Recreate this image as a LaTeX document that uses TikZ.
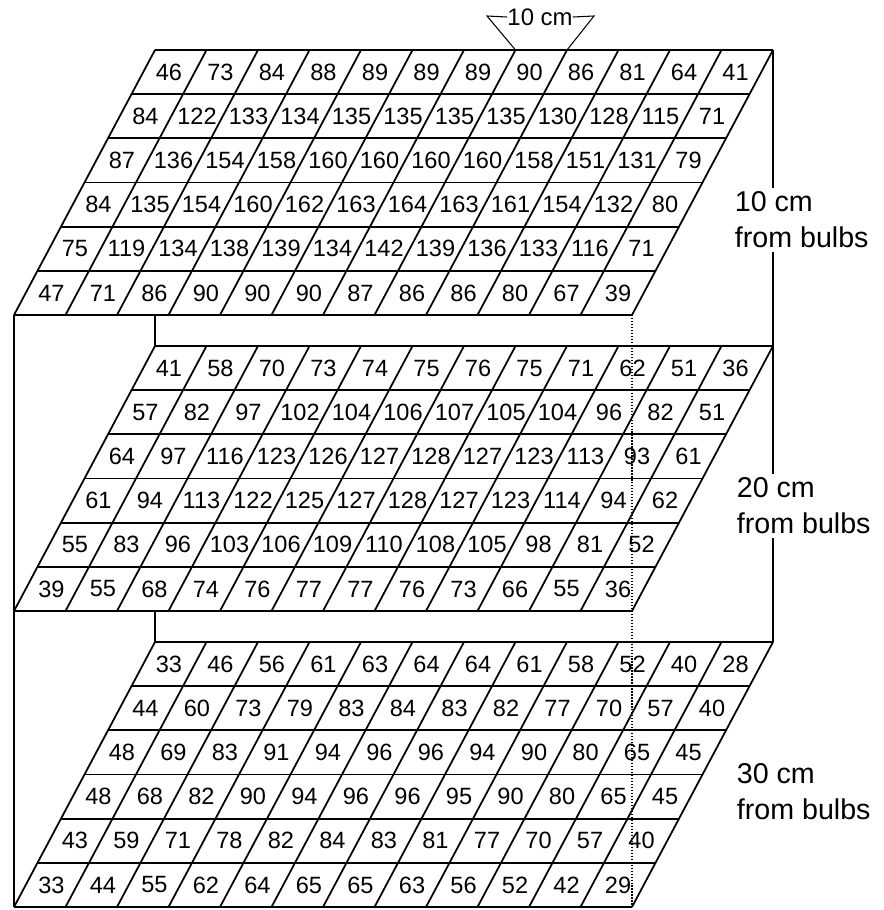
\documentclass[tikz,border=0pt]{standalone}
\usepackage{fontspec}
\setmainfont{Liberation Sans}
\begin{document}
\begin{tikzpicture}[
  x=0.02cm, y=-0.02cm,
  every node/.style={font=\fontsize{13.4}{15}\selectfont, inner sep=0pt},
  rule/.style={line width=1pt},
  wall/.style={line width=1.3pt},
  hidden/.style={line width=0.7pt, densely dotted},
  tag/.style={font=\fontsize{16.3}{20.5}\selectfont, align=left, anchor=west, inner sep=2pt}]
\useasboundingbox (0,0) rectangle (884,910);

% three trays, 12 x 6 cells each
\foreach \lay/\T in {a/50, b/346, c/642} {
  \foreach \r in {0,...,6}
    \draw[rule] (155-141*\r/6, \T+265*\r/6) -- (773-141*\r/6, \T+265*\r/6);
  \foreach \k in {0,...,12}
    \draw[rule] (155+51.5*\k, \T) -- (14+51.5*\k, \T+265);
  \coordinate (\lay-tl) at (155, \T);
  \coordinate (\lay-tr) at (773, \T);
  \coordinate (\lay-bl) at (14, \T+265);
  \coordinate (\lay-br) at (632, \T+265);
}

% 10 cm from bulbs
\foreach \vals [count=\r] in {
  {46,73,84,88,89,89,89,90,86,81,64,41},
  {84,122,133,134,135,135,135,135,130,128,115,71},
  {87,136,154,158,160,160,160,160,158,151,131,79},
  {84,135,154,160,162,163,164,163,161,154,132,80},
  {75,119,134,138,139,134,142,139,136,133,116,71},
  {47,71,86,90,90,90,87,86,86,80,67,39}}
  \foreach \v [count=\c] in \vals
    \node (a\r-\c) at (155+51.5*\c-25.75-141*\r/6+11.75, 50+44.17*\r-22.08) {\v};

% 20 cm from bulbs
\foreach \vals [count=\r] in {
  {41,58,70,73,74,75,76,75,71,62,51,36},
  {57,82,97,102,104,106,107,105,104,96,82,51},
  {64,97,116,123,126,127,128,127,123,113,93,61},
  {61,94,113,122,125,127,128,127,123,114,94,62},
  {55,83,96,103,106,109,110,108,105,98,81,52},
  {39,55,68,74,76,77,77,76,73,66,55,36}}
  \foreach \v [count=\c] in \vals
    \node (b\r-\c) at (155+51.5*\c-25.75-141*\r/6+11.75, 346+44.17*\r-22.08) {\v};

% 30 cm from bulbs
\foreach \vals [count=\r] in {
  {33,46,56,61,63,64,64,61,58,52,40,28},
  {44,60,73,79,83,84,83,82,77,70,57,40},
  {48,69,83,91,94,96,96,94,90,80,65,45},
  {48,68,82,90,94,96,96,95,90,80,65,45},
  {43,59,71,78,82,84,83,81,77,70,57,40},
  {33,44,55,62,64,65,65,63,56,52,42,29}}
  \foreach \v [count=\c] in \vals
    \node (c\r-\c) at (155+51.5*\c-25.75-141*\r/6+11.75, 642+44.17*\r-22.08) {\v};

% box
\node[tag] (ta) at (731,220) {10 cm\\from bulbs};
\node[tag] (tb) at (733,506) {20 cm\\from bulbs};
\node[tag] (tc) at (733,792) {30 cm\\from bulbs};
\draw[wall] (a-bl) -- (c-bl);
\draw[wall] (155,315) -- (b-tl);
\draw[wall] (155,611) -- (c-tl);
\draw[wall] (a-tr) -- (a-tr |- ta.north);
\draw[wall] (a-tr |- ta.south) -- (a-tr |- tb.north);
\draw[wall] (a-tr |- tb.south) -- (c-tr);
\draw[hidden] (a-br) -- (c-br);

% one cell = 10 cm
\node[font=\fontsize{13.6}{15}\selectfont] (span) at (540,17) {10 cm};
\coordinate (k7) at (515.5,50);
\coordinate (k8) at (567,50);
\draw[line width=0.6pt] (span.west) -- (487,16) -- (k7);
\draw[line width=0.6pt] (span.east) -- (594,16) -- (k8);
\end{tikzpicture}
\end{document}
